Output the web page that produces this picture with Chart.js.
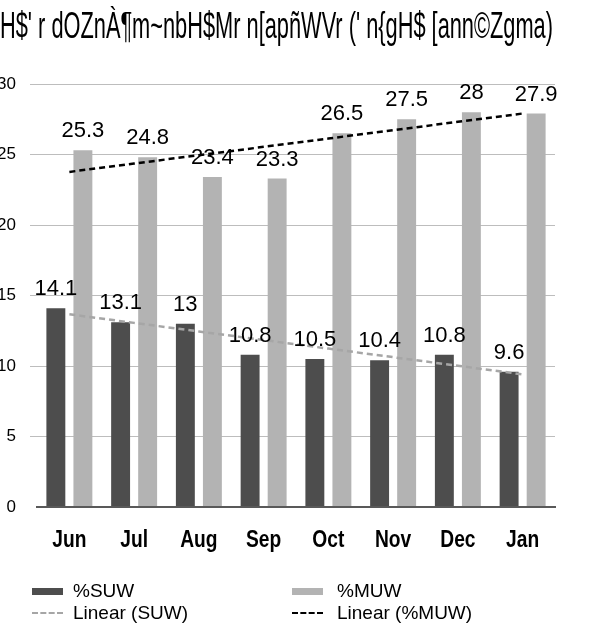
<!DOCTYPE html>
<html>
<head>
<meta charset="utf-8">
<script src="https://cdn.jsdelivr.net/npm/chart.js@4/dist/chart.umd.min.js"></script>
<style>
  html, body { margin: 0; padding: 0; background: #fff; }
  #wrap { position: relative; width: 590px; height: 644px; overflow: hidden; }
  #chart { position: absolute; left: 0; top: 0; }
  #title {
    position: absolute; left: 0; top: 5px; white-space: nowrap;
    font-family: "Liberation Sans Narrow", "Liberation Sans", Arial, sans-serif;
    font-size: 36px; color: #000; transform-origin: 0 0;
  }
  .leg { position: absolute; font-family: "Liberation Sans", Arial, sans-serif; font-size: 19px; color: #000; }
  .sw { position: absolute; width: 31px; }
</style>
</head>
<body>
<div id="wrap">
  <canvas id="chart" width="590" height="644"></canvas>
  <div id="title">H$' r dOZnÀ¶m~nbH$Mr n[apñWVr (' n{gH$ [ann©Zgma)</div>

  <div class="sw" style="left:32px; top:588px; height:7px; background:#4d4d4d;"></div>
  <div class="leg" style="left:73px; top:580px;">%SUW</div>
  <div class="sw" style="left:292px; top:588px; height:7px; background:#b3b3b3;"></div>
  <div class="leg" style="left:337px; top:580px;">%MUW</div>

  <div class="sw" style="left:32px; top:612px; border-top:2px dashed #a6a6a6;"></div>
  <div class="leg" style="left:73px; top:602px;">Linear (SUW)</div>
  <div class="sw" style="left:292px; top:612px; border-top:2px dashed #000;"></div>
  <div class="leg" style="left:337px; top:602px;">Linear (%MUW)</div>
</div>

<script>
const months = ['Jun', 'Jul', 'Aug', 'Sep', 'Oct', 'Nov', 'Dec', 'Jan'];
const suw = [14.1, 13.1, 13, 10.8, 10.5, 10.4, 10.8, 9.6];
const muw = [25.3, 24.8, 23.4, 23.3, 26.5, 27.5, 28, 27.9];
const yTicks = [0, 5, 10, 15, 20, 25, 30];

// least squares trend, like Excel's "Linear" trendline
function linearTrend(values) {
    const n = values.length;
    const mx = (n - 1) / 2;
    const my = values.reduce((a, b) => a + b, 0) / n;
    let sxy = 0, sxx = 0;
    values.forEach((v, i) => { sxy += (i - mx) * (v - my); sxx += (i - mx) * (i - mx); });
    const slope = sxy / sxx;
    return values.map((v, i) => my + slope * (i - mx));
}

// fit the title across the top
const title = document.getElementById('title');
const tw = title.getBoundingClientRect().width;
title.style.transform = `scaleX(${553 / tw})`;

const barLabels = {
    id: 'barLabels',
    afterDatasetsDraw(chart) {
        const ctx = chart.ctx;
        ctx.save();
        ctx.font = '22px "Liberation Sans", Arial, sans-serif';
        ctx.fillStyle = '#000';
        ctx.textAlign = 'center';
        ctx.textBaseline = 'bottom';
        chart.data.datasets.forEach((ds, di) => {
            if (ds.type !== 'bar') return;
            chart.getDatasetMeta(di).data.forEach((bar, i) => {
                ctx.fillText(String(ds.data[i]), bar.x, bar.y - 8);
            });
        });
        ctx.restore();
    }
};

// condensed bold month labels
const monthLabels = {
    id: 'monthLabels',
    afterDraw(chart) {
        const ctx = chart.ctx;
        const xs = chart.scales.x;
        ctx.save();
        ctx.font = 'bold 24px "Liberation Sans", Arial, sans-serif';
        ctx.fillStyle = '#000';
        ctx.textAlign = 'center';
        ctx.textBaseline = 'middle';
        months.forEach((m, i) => {
            ctx.save();
            ctx.translate(xs.getPixelForTick(i), chart.chartArea.bottom + 33);
            ctx.scale(0.8, 1);
            ctx.fillText(m, 0, 0);
            ctx.restore();
        });
        ctx.restore();
    }
};

new Chart(document.getElementById('chart'), {
    data: {
        labels: months,
        datasets: [
            {
                type: 'line', label: 'Linear (SUW)', data: linearTrend(suw),
                borderColor: '#a6a6a6', borderWidth: 2.5, borderDash: [6, 4],
                pointRadius: 0, fill: false, order: 0
            },
            {
                type: 'line', label: 'Linear (%MUW)', data: linearTrend(muw),
                borderColor: '#000', borderWidth: 2.5, borderDash: [6, 4],
                pointRadius: 0, fill: false, order: 0
            },
            {
                type: 'bar', label: '%SUW', data: suw, backgroundColor: '#4d4d4d',
                categoryPercentage: 0.835, barPercentage: 0.7, order: 1
            },
            {
                type: 'bar', label: '%MUW', data: muw, backgroundColor: '#b3b3b3',
                categoryPercentage: 0.835, barPercentage: 0.7, order: 1
            }
        ]
    },
    options: {
        responsive: false,
        animation: false,
        layout: { padding: { top: 84, right: 35, bottom: 77, left: 0 } },
        plugins: { legend: { display: false }, tooltip: { enabled: false } },
        scales: {
            x: {
                offset: true,
                grid: { display: false, drawTicks: false },
                border: { display: true, color: '#595959', width: 2 },
                ticks: { color: 'rgba(0,0,0,0)' },
                afterFit: (axis) => { axis.height = 60; }
            },
            y: {
                min: 0, max: 30,
                afterBuildTicks: (axis) => { axis.ticks = yTicks.map(v => ({ value: v })); },
                border: { display: false },
                grid: {
                    color: (c) => c.tick && c.tick.value === 0 ? '#595959' : '#bdbdbd',
                    lineWidth: (c) => c.tick && c.tick.value === 0 ? 2 : 1,
                    tickColor: (c) => c.tick && c.tick.value === 0 ? 'rgba(0,0,0,0)' : '#bdbdbd',
                    tickLength: 7
                },
                ticks: {
                    padding: 14, color: '#000',
                    font: { family: '"Liberation Sans", Arial, sans-serif', size: 17 }
                },
                afterFit: (axis) => { axis.width = 37; }
            }
        }
    },
    plugins: [barLabels, monthLabels]
});
</script>
</body>
</html>
